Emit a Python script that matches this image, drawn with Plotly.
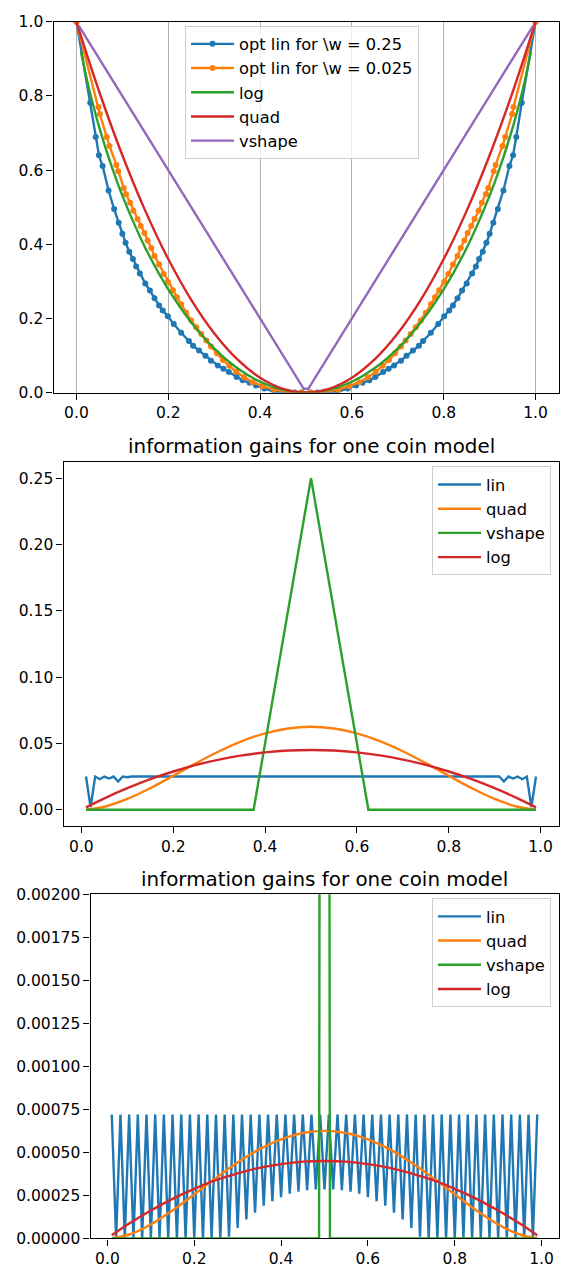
import numpy as np
import plotly.graph_objects as go

# ---------------- data: panel 1 ----------------
optlin025_x = [0.0, 0.03, 0.042, 0.049, 0.057, 0.07, 0.082, 0.092, 0.1, 0.107, 0.115, 0.123, 0.13, 0.138,
               0.15, 0.16, 0.17, 0.18, 0.188, 0.199, 0.212, 0.228, 0.245, 0.254, 0.267, 0.281, 0.293, 0.308,
               0.32, 0.332, 0.349, 0.362, 0.377, 0.391, 0.409, 0.431, 0.445, 0.46, 0.475, 0.49,
               0.51, 0.525, 0.54, 0.555, 0.569, 0.591, 0.609, 0.623, 0.638, 0.651, 0.668, 0.68, 0.692,
               0.707, 0.719, 0.733, 0.746, 0.755, 0.772, 0.788, 0.801, 0.812, 0.82, 0.83, 0.84, 0.85,
               0.862, 0.87, 0.877, 0.885, 0.893, 0.9, 0.908, 0.918, 0.93, 0.943, 0.951, 0.958, 0.97, 1.0]
optlin025_y = [1.0, 0.782, 0.689, 0.640, 0.611, 0.545, 0.495, 0.458, 0.428, 0.404, 0.38, 0.36, 0.34, 0.321,
               0.294, 0.275, 0.254, 0.235, 0.221, 0.206, 0.185, 0.161, 0.139, 0.126, 0.113, 0.099, 0.086, 0.073,
               0.064, 0.055, 0.042, 0.033, 0.026, 0.019, 0.011, 0.002, 0.0, 0.0, 0.0, 0.0,
               0.0, 0.0, 0.0, 0.0, 0.002, 0.011, 0.019, 0.026, 0.033, 0.042, 0.055, 0.064, 0.073,
               0.086, 0.099, 0.113, 0.126, 0.139, 0.161, 0.185, 0.206, 0.221, 0.235, 0.254, 0.275, 0.294,
               0.321, 0.34, 0.36, 0.38, 0.404, 0.428, 0.458, 0.495, 0.545, 0.611, 0.640, 0.689, 0.782, 1.0]

optlin0025_x = [0.0, 0.048, 0.051, 0.066, 0.072, 0.087, 0.091, 0.103, 0.108, 0.117, 0.124, 0.133, 0.14, 0.148,
                0.155, 0.163, 0.17, 0.18, 0.19, 0.199, 0.21, 0.219, 0.228, 0.239, 0.25, 0.261, 0.272, 0.283,
                0.293, 0.306, 0.319, 0.333, 0.348, 0.365, 0.384, 0.406, 0.43, 0.46, 0.49,
                0.51, 0.54, 0.57, 0.594, 0.616, 0.635, 0.652, 0.667, 0.681, 0.694, 0.707, 0.717, 0.728,
                0.739, 0.75, 0.761, 0.772, 0.781, 0.79, 0.801, 0.81, 0.82, 0.83, 0.837, 0.845, 0.852,
                0.86, 0.867, 0.876, 0.883, 0.892, 0.897, 0.909, 0.913, 0.928, 0.934, 0.949, 0.952, 1.0]
optlin0025_y = [1.0, 0.770, 0.751, 0.689, 0.665, 0.614, 0.597, 0.552, 0.535, 0.512, 0.490, 0.468, 0.449, 0.43,
                0.41, 0.39, 0.368, 0.345, 0.32, 0.299, 0.276, 0.257, 0.238, 0.215, 0.194, 0.176, 0.158, 0.14,
                0.124, 0.106, 0.088, 0.072, 0.056, 0.041, 0.028, 0.017, 0.008, 0.002, 0.0,
                0.0, 0.002, 0.008, 0.017, 0.028, 0.041, 0.056, 0.072, 0.088, 0.106, 0.124, 0.14, 0.158,
                0.176, 0.194, 0.215, 0.238, 0.257, 0.276, 0.299, 0.32, 0.345, 0.368, 0.39, 0.41, 0.43,
                0.449, 0.468, 0.490, 0.512, 0.535, 0.552, 0.597, 0.614, 0.665, 0.689, 0.751, 0.770, 1.0]

log1_x = [0.01, 0.02, 0.03, 0.05, 0.075, 0.1, 0.15, 0.2, 0.25, 0.3, 0.35, 0.4, 0.45, 0.5,
          0.55, 0.6, 0.65, 0.7, 0.75, 0.8, 0.85, 0.9, 0.925, 0.95, 0.97, 0.98, 0.99]
log1_y = [0.919, 0.859, 0.806, 0.714, 0.616, 0.531, 0.390, 0.278, 0.189, 0.119, 0.066, 0.029, 0.007, 0.0,
          0.007, 0.029, 0.066, 0.119, 0.189, 0.278, 0.390, 0.531, 0.616, 0.714, 0.806, 0.859, 0.919]

quad1_x = [0.0, 0.05, 0.1, 0.15, 0.2, 0.25, 0.3, 0.35, 0.4, 0.45, 0.5,
           0.55, 0.6, 0.65, 0.7, 0.75, 0.8, 0.85, 0.9, 0.95, 1.0]
quad1_y = [1.0, 0.81, 0.64, 0.49, 0.36, 0.25, 0.16, 0.09, 0.04, 0.01, 0.0,
           0.01, 0.04, 0.09, 0.16, 0.25, 0.36, 0.49, 0.64, 0.81, 1.0]

vshape1_x = [0.005, 0.495, 0.505, 0.995]
vshape1_y = [0.99, 0.01, 0.01, 0.99]

# ---------------- data: panels 2 and 3 ----------------
smooth_x = [0.01, 0.05, 0.1, 0.15, 0.2, 0.25, 0.3, 0.35, 0.4, 0.45, 0.5,
            0.55, 0.6, 0.65, 0.7, 0.75, 0.8, 0.85, 0.9, 0.95, 0.99]

quad2_y = [0.0001, 0.00226, 0.0081, 0.01626, 0.0256, 0.03516, 0.0441, 0.05176, 0.0576, 0.06126, 0.0625,
           0.06126, 0.0576, 0.05176, 0.0441, 0.03516, 0.0256, 0.01626, 0.0081, 0.00226, 0.0001]
log2_y = [0.0018, 0.0086, 0.0162, 0.023, 0.0288, 0.0338, 0.0378, 0.041, 0.0432, 0.0446, 0.045,
          0.0446, 0.0432, 0.041, 0.0378, 0.0338, 0.0288, 0.023, 0.0162, 0.0086, 0.0018]
vshape2_x = [0.01, 0.375, 0.5, 0.625, 0.99]
vshape2_y = [0.0, 0.0, 0.25, 0.0, 0.0]

grid_x = np.round(np.linspace(0.01, 0.99, 99), 2)

lin2_y = [0.025, 0.002, 0.025, 0.023, 0.025, 0.0235, 0.025, 0.0212, 0.025, 0.0245,
          0.025, 0.025, 0.0248, 0.0245, 0.025, 0.025, 0.025, 0.025, 0.025, 0.0248,
          0.025, 0.025, 0.025, 0.025, 0.0249, 0.025, 0.025, 0.025, 0.025, 0.025,
          0.025, 0.025, 0.025, 0.025, 0.025, 0.025, 0.025, 0.025, 0.025, 0.025,
          0.025, 0.025, 0.025, 0.025, 0.025, 0.025, 0.025, 0.025, 0.025, 0.025,
          0.025, 0.025, 0.025, 0.025, 0.025, 0.025, 0.025, 0.025, 0.025, 0.025,
          0.025, 0.025, 0.025, 0.025, 0.025, 0.025, 0.025, 0.025, 0.025, 0.025,
          0.025, 0.025, 0.025, 0.025, 0.0249, 0.025, 0.025, 0.025, 0.025, 0.0248,
          0.025, 0.025, 0.025, 0.025, 0.025, 0.0245, 0.0248, 0.025, 0.025, 0.0245,
          0.025, 0.0212, 0.025, 0.0235, 0.025, 0.023, 0.025, 0.002, 0.025]

quad3_y = [0.000001, 0.0000226, 0.000081, 0.0001626, 0.000256, 0.0003516, 0.000441, 0.0005176, 0.000576,
           0.0006126, 0.000625, 0.0006126, 0.000576, 0.0005176, 0.000441, 0.0003516, 0.000256, 0.0001626,
           0.000081, 0.0000226, 0.000001]
log3_y = [0.000018, 0.000086, 0.000162, 0.00023, 0.000288, 0.000338, 0.000378, 0.00041, 0.000432, 0.000446,
          0.00045, 0.000446, 0.000432, 0.00041, 0.000378, 0.000338, 0.000288, 0.00023, 0.000162, 0.000086,
          0.000018]
vshape3_x = [0.01, 0.4875, 0.5, 0.5125, 0.99]
vshape3_y = [0.0, 0.0, 0.025, 0.0, 0.0]

lin3_y = [7.2e-4, 0, 7.2e-4, 0, 7.2e-4, 0, 7.2e-4, 0, 7.2e-4, 0,
          7.2e-4, 0, 7.2e-4, 0, 7.2e-4, 0, 7.2e-4, 0, 7.2e-4, 0,
          7.2e-4, 0, 7.2e-4, 0, 7.2e-4, 0, 7.2e-4, 1e-5, 7.2e-4, 6e-5,
          7.2e-4, 1.1e-4, 7.2e-4, 1.5e-4, 7.2e-4, 1.9e-4, 7.2e-4, 2.16e-4, 7.2e-4, 2.4e-4,
          7.2e-4, 2.6e-4, 7.2e-4, 2.72e-4, 7.2e-4, 2.8e-4, 7.2e-4, 2.84e-4, 7.2e-4, 2.85e-4,
          7.2e-4, 2.84e-4, 7.2e-4, 2.8e-4, 7.2e-4, 2.72e-4, 7.2e-4, 2.6e-4, 7.2e-4, 2.4e-4,
          7.2e-4, 2.16e-4, 7.2e-4, 1.9e-4, 7.2e-4, 1.5e-4, 7.2e-4, 1.1e-4, 7.2e-4, 6e-5,
          7.2e-4, 1e-5, 7.2e-4, 0, 7.2e-4, 0, 7.2e-4, 0, 7.2e-4, 0,
          7.2e-4, 0, 7.2e-4, 0, 7.2e-4, 0, 7.2e-4, 0, 7.2e-4, 0,
          7.2e-4, 0, 7.2e-4, 0, 7.2e-4, 0, 7.2e-4, 0, 7.2e-4]

TITLE = "information gains for one coin model"

# ---------------- styling ----------------
BLUE, ORANGE, GREEN, RED, PURPLE = "#1f77b4", "#ff7f0e", "#2ca02c", "#d62728", "#9467bd"
LW = 2.4
FONT = "DejaVu Sans"
TICK_SIZE = 15.5
LEG_SIZE = 16.3
TITLE_SIZE = 19.9
W, H = 565, 1275

fig = go.Figure()

def line(x, y, name, color, ax, leg, group, markers=False, spline=False):
    fig.add_trace(go.Scatter(
        x=x, y=y, name=name, mode="lines+markers" if markers else "lines",
        line=dict(color=color, width=LW, shape="spline" if spline else "linear"),
        marker=dict(size=6, color=color) if markers else None,
        xaxis="x" + ax, yaxis="y" + ax, legend=leg, legendgroup=group))

# panel 1
line(optlin025_x, optlin025_y, "opt lin for \\w = 0.25", BLUE, "", "legend", "a", markers=True)
line(optlin0025_x, optlin0025_y, "opt lin for \\w = 0.025", ORANGE, "", "legend", "b", markers=True)
line(log1_x, log1_y, "log", GREEN, "", "legend", "c", spline=True)
line(quad1_x, quad1_y, "quad", RED, "", "legend", "d", spline=True)
line(vshape1_x, vshape1_y, "vshape", PURPLE, "", "legend", "e")

# panel 2
line(list(grid_x), lin2_y, "lin", BLUE, "2", "legend2", "f")
line(smooth_x, quad2_y, "quad", ORANGE, "2", "legend2", "g", spline=True)
line(vshape2_x, vshape2_y, "vshape", GREEN, "2", "legend2", "h")
line(smooth_x, log2_y, "log", RED, "2", "legend2", "i", spline=True)

# panel 3
line(list(grid_x), lin3_y, "lin", BLUE, "3", "legend3", "j")
line(smooth_x, quad3_y, "quad", ORANGE, "3", "legend3", "k", spline=True)
line(vshape3_x, vshape3_y, "vshape", GREEN, "3", "legend3", "l")
line(smooth_x, log3_y, "log", RED, "3", "legend3", "m", spline=True)

def px_x(p):
    return p / W

def px_y(p):
    return 1 - p / H

axis_common = dict(showline=True, linecolor="black", linewidth=1.3, mirror=True,
                   ticks="outside", ticklen=6, tickwidth=1.3, tickcolor="black",
                   zeroline=False, tickfont=dict(family=FONT, size=TICK_SIZE, color="black"))

legend_common = dict(bgcolor="rgba(255,255,255,0.8)", bordercolor="#d0d0d0", borderwidth=1,
                     font=dict(family=FONT, size=LEG_SIZE, color="black"), itemwidth=43,
                     tracegroupgap=0, yanchor="top", traceorder="normal")

fig.update_layout(
    width=W, height=H, autosize=False,
    margin=dict(l=0, r=0, t=0, b=0),
    paper_bgcolor="white", plot_bgcolor="white",
    font=dict(family=FONT, size=TICK_SIZE, color="black"),
    xaxis=dict(domain=[px_x(53.5), px_x(558.5)], range=[-0.05, 1.05], anchor="y",
               tickvals=[0, 0.2, 0.4, 0.6, 0.8, 1.0], tickformat=".1f",
               showgrid=True, gridcolor="#b0b0b0", gridwidth=1.2, **axis_common),
    yaxis=dict(domain=[px_y(389), px_y(13)], range=[0, 1], anchor="x",
               tickvals=[0, 0.2, 0.4, 0.6, 0.8, 1.0], tickformat=".1f", showgrid=False, **axis_common),
    xaxis2=dict(domain=[px_x(63.5), px_x(558.5)], range=[-0.039, 1.039], anchor="y2",
                tickvals=[0, 0.2, 0.4, 0.6, 0.8, 1.0], tickformat=".1f", showgrid=False, **axis_common),
    yaxis2=dict(domain=[px_y(829), px_y(459)], range=[-0.0125, 0.2625], anchor="x2",
                tickvals=[0, 0.05, 0.1, 0.15, 0.2, 0.25], tickformat=".2f", showgrid=False, **axis_common),
    xaxis3=dict(domain=[px_x(90.5), px_x(558.5)], range=[-0.039, 1.039], anchor="y3",
                tickvals=[0, 0.2, 0.4, 0.6, 0.8, 1.0], tickformat=".1f", showgrid=False, **axis_common),
    yaxis3=dict(domain=[px_y(1247), px_y(898)], range=[0, 0.002], anchor="x3",
                tickvals=[0, 0.00025, 0.0005, 0.00075, 0.001, 0.00125, 0.0015, 0.00175, 0.002],
                tickformat=".5f", showgrid=False, **axis_common),
    legend=dict(x=px_x(185), y=px_y(17), xanchor="left", **legend_common),
    legend2=dict(x=px_x(551), y=px_y(464), xanchor="right", **legend_common),
    legend3=dict(x=px_x(551), y=px_y(902), xanchor="right", **legend_common),
    annotations=[
        dict(text=TITLE, x=(px_x(63.5) + px_x(558.5)) / 2, y=px_y(444), xref="paper", yref="paper",
             xanchor="center", yanchor="middle", showarrow=False,
             font=dict(family=FONT, size=TITLE_SIZE, color="black")),
        dict(text=TITLE, x=(px_x(90.5) + px_x(558.5)) / 2, y=px_y(883), xref="paper", yref="paper",
             xanchor="center", yanchor="middle", showarrow=False,
             font=dict(family=FONT, size=TITLE_SIZE, color="black")),
    ],
)

fig.write_html("out.html",
               config={"displayModeBar": False},
               post_script="document.body.style.margin='0';document.body.style.padding='0';"
                           "document.body.style.overflow='hidden';")
